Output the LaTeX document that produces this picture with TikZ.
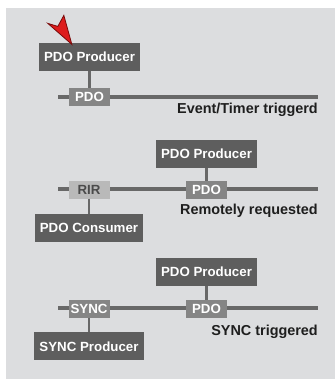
\documentclass[tikz,border=0pt]{standalone}
\usepackage{fontspec}
\setmainfont{Liberation Sans}
\usetikzlibrary{positioning}
\definecolor{panelgray}{RGB}{220,221,223}
\definecolor{unitgray}{RGB}{94,94,94}
\definecolor{taggray}{RGB}{133,133,133}
\definecolor{rirgray}{RGB}{185,185,185}
\definecolor{busgray}{RGB}{104,104,104}
\definecolor{textdark}{RGB}{30,30,30}
\definecolor{pointred}{RGB}{222,28,28}
\definecolor{pointdark}{RGB}{120,10,10}
\tikzset{
  unit/.style = {fill=unitgray, text=white, rectangle, minimum height=28pt, inner xsep=5pt, inner ysep=0pt, font=\fontsize{13.3}{15}\selectfont\bfseries},
  tag/.style = {fill=taggray, text=white, rectangle, minimum height=18pt, minimum width=41pt, inner xsep=2pt, inner ysep=0pt, font=\fontsize{13.3}{15}\selectfont\bfseries},
  rirtag/.style = {tag, fill=rirgray, text=textdark!80},
  caption/.style = {text=textdark, inner sep=0pt, anchor=east, font=\fontsize{14.4}{16}\selectfont\bfseries},
  bus/.style = {draw=busgray, line width=4pt},
  link/.style = {draw=busgray, line width=2.5pt},
  pointer/.style = {draw=pointdark, fill=pointred, line width=0.8pt, line join=miter}
}
\begin{document}
\begin{tikzpicture}[x=1pt, y=-1pt]
            \useasboundingbox (0,0) rectangle (335,380);
            \fill[panelgray] (6,8) rectangle (335,379);
            % buses
            \coordinate (busAl) at (58,97);
            \coordinate (busAr) at (318,97);
            \coordinate (busBl) at (58,189);
            \coordinate (busBr) at (318,189);
            \coordinate (busCl) at (58,308);
            \coordinate (busCr) at (318,308);
            \draw[bus] (busAl) -- (busAr);
            \draw[bus] (busBl) -- (busBr);
            \draw[bus] (busCl) -- (busCr);
            % event/timer triggered
            \node[tag] (pdoA) at (89.5,97) {PDO};
            \node[unit, above=17pt of pdoA] (prodA) {PDO Producer};
            \node[caption] (capA) at (318,110) {Event/Timer triggerd};
            % remotely requested
            \node[rirtag] (rir) at (89,189.5) {RIR};
            \node[tag] (pdoB) at (206.5,190) {PDO};
            \node[unit, above=13pt of pdoB] (prodB) {PDO Producer};
            \node[unit, below=15pt of rir] (cons) {PDO Consumer};
            \node[caption] (capB) at (318,211) {Remotely requested};
            % sync triggered
            \node[tag] (sync) at (89,309) {SYNC};
            \node[tag] (pdoC) at (206.5,309) {PDO};
            \node[unit, above=14pt of pdoC] (prodC) {PDO Producer};
            \node[unit, below=14pt of sync] (syncprod) {SYNC Producer};
            \node[caption] (capC) at (318,332) {SYNC triggered};
            \draw[link] (prodA) -- (pdoA);
            \draw[link] (prodB) -- (pdoB);
            \draw[link] (rir) -- (cons);
            \draw[link] (prodC) -- (pdoC);
            \draw[link] (sync) -- (syncprod);
            % pointer
            \coordinate (ptip) at ([xshift=33pt, yshift=-2pt]prodA.north west);
            \filldraw[pointer] (ptip) -- ++(-24,-21) -- ++(10,3) -- ++(6,-11) -- cycle;
\end{tikzpicture}
\end{document}
